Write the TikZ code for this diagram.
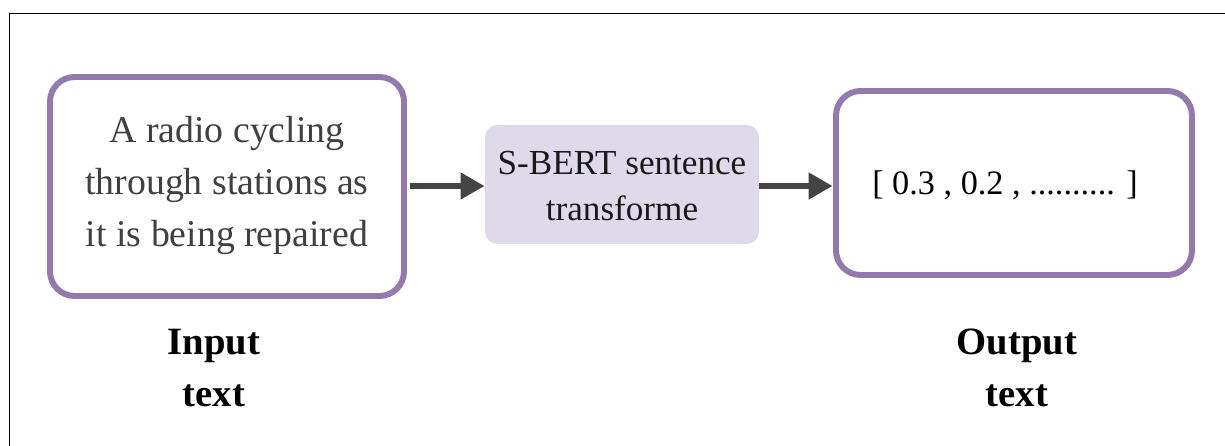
\documentclass[tikz,border=0pt]{standalone}
\usetikzlibrary{arrows.meta}
\usepackage{fontspec}
\setmainfont{Liberation Serif}
\definecolor{boxpurple}{HTML}{9479AF}
\definecolor{boxfill}{HTML}{DFDAE9}
\definecolor{arrowgray}{HTML}{444444}
\definecolor{textgray}{HTML}{404040}
\begin{document}
\begin{tikzpicture}[x=0.02cm,y=-0.02cm,
  outerbox/.style={draw=boxpurple, line width=3.4pt, rounded corners=14pt, fill=white},
  midbox/.style={fill=boxfill, rounded corners=7pt},
  flow/.style={draw=arrowgray, line width=3.4pt, -{Triangle[length=13.7pt,width=14.5pt]}},
  bodytext/.style={align=center, font=\fontsize{21.5}{29.6}\selectfont},
  midtextstyle/.style={align=center, font=\fontsize{20}{26.2}\selectfont},
  outtextstyle/.style={align=center, font=\fontsize{19.5}{24}\selectfont},
  labeltext/.style={align=center, font=\fontsize{22}{30}\selectfont\bfseries}]
\useasboundingbox (0,0) rectangle (1225,446);
% frame
\draw[line width=0.85pt] (1225,13.5) -- (9.5,13.5) -- (9.5,446);
% boxes
\draw[outerbox] (50,77) rectangle (404,296);
\node[minimum width=354*0.02cm, minimum height=219*0.02cm, inner sep=0pt] (in) at (227,186.5) {};
\node[bodytext, text=textgray] (intext) at (227,185) {A radio cycling\\through stations as\\it is being repaired};
\fill[midbox] (485,125) rectangle (759,244);
\node[minimum width=274*0.02cm, minimum height=119*0.02cm, inner sep=0pt] (mid) at (622,184.5) {};
\node[midtextstyle, text=black!90] (midtext) at (622,186) {S-BERT sentence\\transforme};
\draw[outerbox] (836,91) rectangle (1192,275);
\node[minimum width=356*0.02cm, minimum height=184*0.02cm, inner sep=0pt] (out) at (1014,183) {};
\node[outtextstyle, text=black] (outtext) at (1005,185) {[ 0.3 , 0.2 , .......... ]};
% arrows
\draw[flow] ([xshift=0.12cm]in.east |- 0,186) -- (mid.west |- 0,186);
\draw[flow] (mid.east |- 0,186) -- ([xshift=-0.06cm]out.west |- 0,186);
% labels
\node[labeltext] (inlabel) at (214,368) {Input\\text};
\node[labeltext] (outlabel) at (1017,368) {Output\\text};
\end{tikzpicture}
\end{document}
